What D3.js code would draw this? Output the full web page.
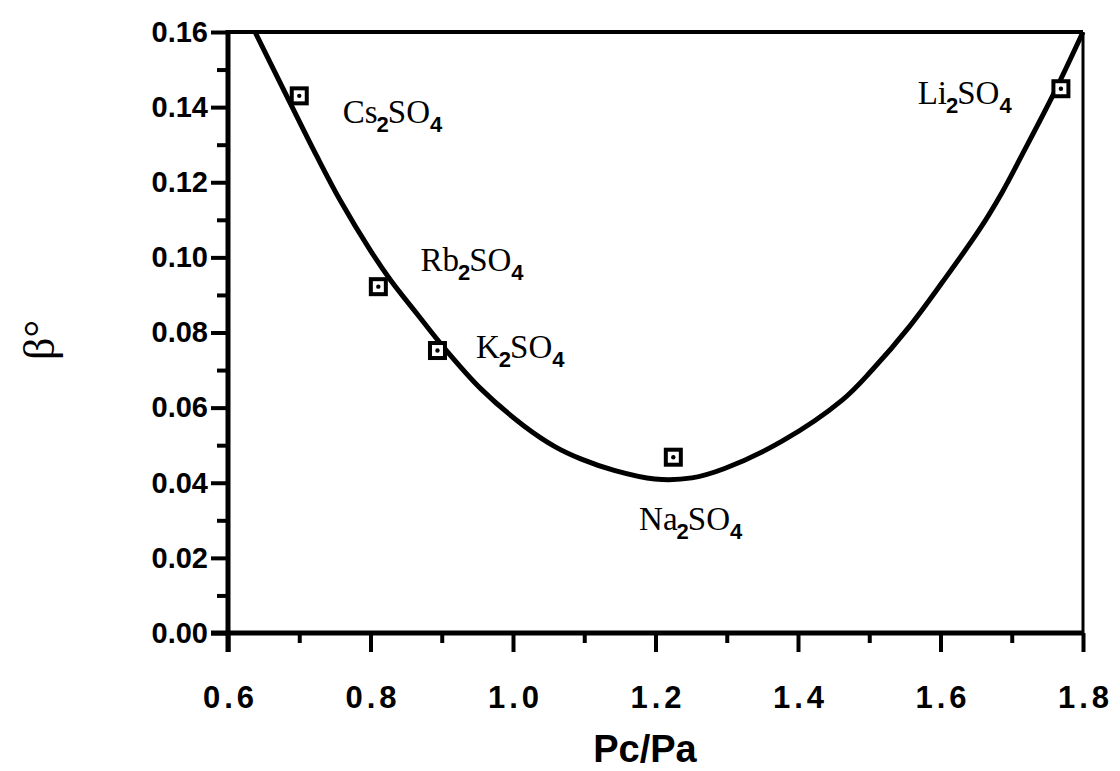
<!DOCTYPE html>
<html><head><meta charset="utf-8">
<script src="https://cdn.jsdelivr.net/npm/d3@7"></script>
<style>body{margin:0;background:#fff}</style>
</head><body>
<svg id="c" width="1120" height="771"></svg>
<script>
// ---- data ----
const curveX = [0.638,0.687,0.725,0.758,0.800,0.828,0.866,0.903,0.955,1.015,1.060,1.096,1.142,1.199,1.251,1.297,1.377,1.462,1.504,1.556,1.603,1.655,1.687,1.715,1.760,1.800];
const curveY = [0.160,0.1412,0.1268,0.1150,0.1018,0.0940,0.0848,0.0760,0.0650,0.0552,0.0495,0.0463,0.0433,0.0410,0.0413,0.0438,0.0510,0.0620,0.0700,0.0815,0.0935,0.1075,0.1175,0.1275,0.1440,0.160];
const saltCation = ["Cs","Rb","K","Na","Li"];
const saltX = [0.700,0.811,0.894,1.225,1.769];
const saltY = [0.1430,0.0922,0.0752,0.0468,0.1449];
const labelAnchorX = [0.761,0.870,0.948,1.177,1.568];
const labelAnchorY = [0.1358,0.0965,0.0731,0.0274,0.1409];
const xTicks = [0.6,0.8,1.0,1.2,1.4,1.6,1.8];
const xMinorTicks = [0.7,0.9,1.1,1.3,1.5,1.7];
const yTicks = [0,0.02,0.04,0.06,0.08,0.10,0.12,0.14,0.16];
const yMinorTicks = [0.01,0.03,0.05,0.07,0.09,0.11,0.13,0.15];
const xTitle = "Pc/Pa";
const yTitle = "β°";

// ---- layout ----
const L = 228, R = 1083, T = 32, B = 633;
const x = d3.scaleLinear().domain([0.6,1.8]).range([L,R]);
const y = d3.scaleLinear().domain([0,0.16]).range([B,T]);
const svg = d3.select("#c");
const sans = "'Liberation Sans', Arial, sans-serif";
const serif = "'Liberation Serif', 'Times New Roman', serif";

// frame top & right
svg.append("line").attr("x1",L).attr("x2",R).attr("y1",T).attr("y2",T)
  .attr("stroke","#000").attr("stroke-width",4);
svg.append("line").attr("x1",R).attr("x2",R).attr("y1",T).attr("y2",B)
  .attr("stroke","#000").attr("stroke-width",3);

// x axis
const gx = svg.append("g").attr("transform",`translate(0,${B})`);
gx.call(d3.axisBottom(x).tickValues(xMinorTicks).tickSize(10).tickFormat(""));
gx.selectAll(".tick line").attr("stroke-width",4);
const gx2 = svg.append("g").attr("transform",`translate(0,${B})`)
  .call(d3.axisBottom(x).tickValues(xTicks).tickSize(19).tickPadding(34).tickFormat(d3.format(".1f")));
gx2.selectAll(".tick line").attr("stroke-width",4);
gx2.selectAll(".tick text").attr("font-family",sans).attr("font-size",31).attr("font-weight","bold")
  .attr("fill","#000").attr("letter-spacing","4px").attr("dx","2px");
svg.selectAll(".domain").remove();
svg.append("line").attr("x1",L-17).attr("x2",R+1).attr("y1",B).attr("y2",B)
  .attr("stroke","#000").attr("stroke-width",5);

// y axis
const gy = svg.append("g").attr("transform",`translate(${L},0)`);
gy.call(d3.axisLeft(y).tickValues(yMinorTicks).tickSize(11).tickFormat(""));
gy.selectAll(".tick line").attr("stroke-width",4);
const gy2 = svg.append("g").attr("transform",`translate(${L},0)`)
  .call(d3.axisLeft(y).tickValues(yTicks).tickSize(17).tickPadding(3).tickFormat(d3.format(".2f")));
gy2.selectAll(".tick line").attr("stroke-width",4);
gy2.selectAll(".tick text").attr("font-family",sans).attr("font-size",29).attr("font-weight","bold").attr("fill","#000");
svg.selectAll(".domain").remove();
svg.append("line").attr("x1",L).attr("x2",L).attr("y1",T-2).attr("y2",B+19)
  .attr("stroke","#000").attr("stroke-width",5);

// titles
svg.append("text").attr("x",645).attr("y",762).attr("text-anchor","middle")
  .attr("font-family",sans).attr("font-size",38).attr("font-weight","bold").text(xTitle);
svg.append("text").attr("transform","translate(54,340) rotate(-90)").attr("text-anchor","middle")
  .attr("font-family",serif).attr("font-size",44).text(yTitle);

// curve
const pts = curveX.map((v,i)=>[v,curveY[i]]);
svg.append("path").datum(pts)
  .attr("d",d3.line().x(d=>x(d[0])).y(d=>y(d[1])).curve(d3.curveCatmullRom.alpha(0.5)))
  .attr("fill","none").attr("stroke","#000").attr("stroke-width",5).attr("stroke-linejoin","round");

// markers
const mk = svg.append("g").selectAll("g").data(saltX.map((v,i)=>[v,saltY[i]])).join("g")
  .attr("transform",d=>`translate(${x(d[0])},${y(d[1])})`);
mk.append("rect").attr("x",-7.5).attr("y",-7.5).attr("width",15).attr("height",15)
  .attr("fill","#fff").attr("stroke","#000").attr("stroke-width",4);
mk.append("circle").attr("r",2.2).attr("fill","#000");

// labels
const lab = svg.append("g").selectAll("text").data(saltCation).join("text")
  .attr("x",(d,i)=>x(labelAnchorX[i])).attr("y",(d,i)=>y(labelAnchorY[i]))
  .attr("font-family",serif).attr("font-size",33).attr("fill","#000");
lab.append("tspan").text(d=>d);
lab.append("tspan").attr("dy",9).attr("dx",-1).attr("font-size",22).attr("font-weight","bold").attr("font-family",sans).text("2");
lab.append("tspan").attr("dy",-9).attr("dx",-1).text("SO");
lab.append("tspan").attr("dy",9).attr("font-size",22).attr("font-weight","bold").attr("font-family",sans).text("4");
</script>
</body></html>
